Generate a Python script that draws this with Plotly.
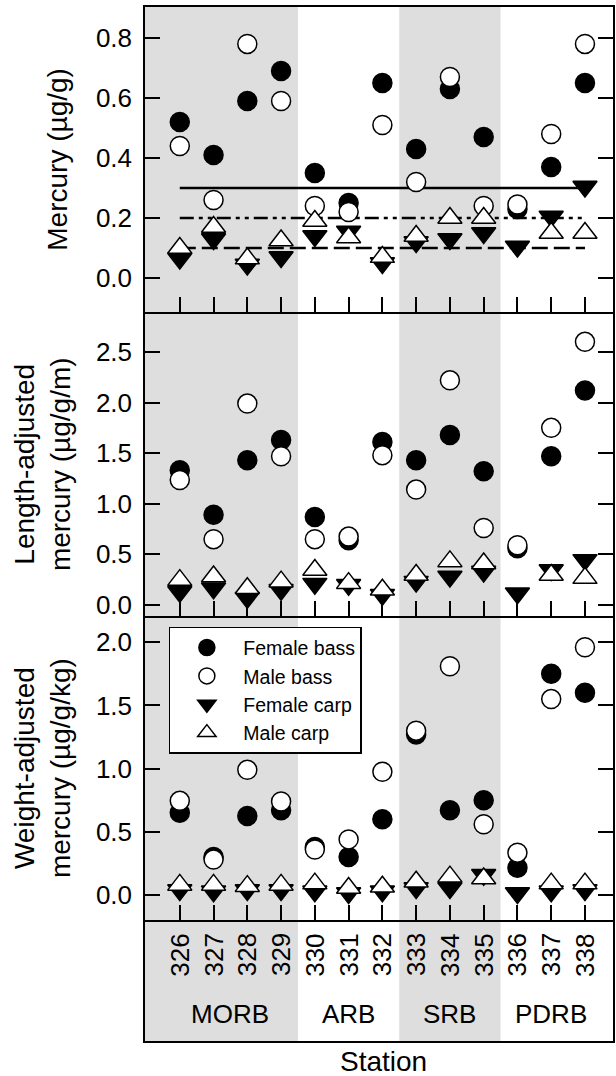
import plotly.graph_objects as go

stations = [326, 327, 328, 329, 330, 331, 332, 333, 334, 335, 336, 337, 338]
groups = ["MORB", "ARB", "SRB", "PDRB"]
group_first = [326, 330, 333, 336]
group_last = [329, 332, 335, 338]
shaded = [True, False, True, False]

series_names = ["Female bass", "Male bass", "Female carp", "Male carp"]

hg_fb = [0.52, 0.41, 0.59, 0.69, 0.35, 0.25, 0.65, 0.43, 0.63, 0.47, 0.23, 0.37, 0.65]
hg_mb = [0.44, 0.26, 0.78, 0.59, 0.24, 0.22, 0.51, 0.32, 0.67, 0.24, 0.245, 0.48, 0.78]
hg_fc = [0.065, 0.13, 0.045, 0.07, 0.14, 0.155, 0.05, 0.12, 0.13, 0.15, 0.105, 0.205, 0.305]
hg_mc = [0.10, 0.17, 0.065, 0.125, 0.19, 0.135, 0.07, 0.14, 0.20, 0.20, None, 0.15, 0.15]

len_fb = [1.33, 0.89, 1.43, 1.63, 0.87, 0.64, 1.61, 1.43, 1.68, 1.32, 0.56, 1.47, 2.12]
len_mb = [1.235, 0.65, 1.99, 1.47, 0.65, 0.675, 1.48, 1.14, 2.22, 0.76, 0.59, 1.75, 2.60]
len_fc = [0.13, 0.165, 0.07, 0.15, 0.21, 0.20, 0.10, 0.23, 0.28, 0.33, 0.115, 0.345, 0.445]
len_mc = [0.245, 0.28, 0.165, 0.23, 0.345, 0.215, 0.15, 0.295, 0.43, 0.41, None, 0.295, 0.265]

wt_fb = [0.65, 0.30, 0.625, 0.67, 0.38, 0.30, 0.60, 1.27, 0.67, 0.75, 0.215, 1.75, 1.60]
wt_mb = [0.745, 0.28, 0.99, 0.74, 0.36, 0.44, 0.975, 1.30, 1.81, 0.56, 0.335, 1.55, 1.96]
wt_fc = [0.04, 0.03, 0.04, 0.04, 0.03, 0.015, 0.03, 0.055, 0.055, 0.16, 0.015, 0.03, 0.04]
wt_mc = [0.08, 0.08, 0.07, 0.08, 0.09, 0.055, 0.065, 0.105, 0.145, 0.13, None, 0.09, 0.09]

# reference lines in the mercury panel (µg/g)
ref_levels = [0.3, 0.2, 0.1]
ref_dashes = ["solid", "14px,5px,4px,5px,4px,5px", "16px,6px"]

panel_titles = ["Mercury (µg/g)",
                "Length-adjusted<br>mercury (µg/g/m)",
                "Weight-adjusted<br>mercury (µg/g/kg)"]
panel_ranges = [[-0.113, 0.903], [-0.11, 2.895], [-0.198, 2.207]]
panel_ticks = [[0.0, 0.2, 0.4, 0.6, 0.8], [0.0, 0.5, 1.0, 1.5, 2.0, 2.5], [0.0, 0.5, 1.0, 1.5, 2.0]]
panel_domains = [[0.705, 1.0], [0.411, 0.705], [0.117, 0.411]]
strip_domain = [0.0, 0.117]

FONT = "Liberation Sans, Arial, sans-serif"
xr = [324.97, 338.83]

panels = [
    [hg_fb, hg_mb, hg_fc, hg_mc],
    [len_fb, len_mb, len_fc, len_mc],
    [wt_fb, wt_mb, wt_fc, wt_mc],
]

styles = [
    dict(symbol="circle", size=19, color="black", line=dict(color="black", width=1.5)),
    dict(symbol="circle", size=19, color="white", line=dict(color="black", width=1.5)),
    dict(symbol="triangle-down", size=21, color="black", line=dict(color="black", width=1.5)),
    dict(symbol="triangle-up", size=21, color="white", line=dict(color="black", width=1.5)),
]

fig = go.Figure()

# reference lines
for lvl, dsh in zip(ref_levels, ref_dashes):
    fig.add_trace(go.Scatter(x=[stations[0], stations[-1]], y=[lvl, lvl], mode="lines",
                             line=dict(color="black", width=2.5, dash=dsh),
                             xaxis="x", yaxis="y", showlegend=False, hoverinfo="skip"))

for p, data in enumerate(panels):
    ax = "" if p == 0 else str(p + 1)
    for s, (vals, st, nm) in enumerate(zip(data, styles, series_names)):
        fig.add_trace(go.Scatter(x=stations, y=vals, mode="markers", name=nm,
                                 marker=st, xaxis="x" + ax, yaxis="y" + ax,
                                 showlegend=(p == 0), legendrank=s + 1))

# empty trace so the station strip subplot is created
fig.add_trace(go.Scatter(x=[], y=[], mode="markers", xaxis="x4", yaxis="y4",
                         showlegend=False, hoverinfo="skip"))

layout = dict(
    width=616, height=1076,
    margin=dict(l=145, r=1, t=7, b=35),
    paper_bgcolor="white", plot_bgcolor="rgba(0,0,0,0)",
    font=dict(family=FONT, color="black", size=26),
    legend=dict(x=0.051, y=0.4005, xanchor="left", yanchor="top",
                bgcolor="white", bordercolor="black", borderwidth=1.5,
                font=dict(size=19.5, family=FONT), itemwidth=63,
                tracegroupgap=0, traceorder="normal"),
    showlegend=True,
)

for p in range(3):
    k = "" if p == 0 else str(p + 1)
    layout["xaxis" + k] = dict(range=xr, domain=[0, 1], anchor="y" + k,
                               showline=True, mirror=(p == 0), linecolor="black", linewidth=1.5,
                               ticks="inside", ticklen=15, tickwidth=1.5, tickcolor="black",
                               tickvals=stations, showticklabels=False,
                               showgrid=False, zeroline=False)
    layout["yaxis" + k] = dict(range=panel_ranges[p], domain=panel_domains[p], anchor="x" + k,
                               showline=True, mirror="ticks", linecolor="black", linewidth=1.5,
                               ticks="inside", ticklen=15, tickwidth=1.5, tickcolor="black",
                               tickvals=panel_ticks[p], tickformat=".1f",
                               tickfont=dict(size=26, family=FONT),
                               ticklabelstandoff=6,
                               showgrid=False, zeroline=False)

layout["xaxis4"] = dict(range=xr, domain=[0, 1], anchor="y4", showline=True, mirror=False,
                        linecolor="black", linewidth=1.5, ticks="", showticklabels=False,
                        showgrid=False, zeroline=False)
layout["yaxis4"] = dict(range=[0, 1], domain=strip_domain, anchor="x4", showline=True, mirror=True,
                        linecolor="black", linewidth=1.5, ticks="", showticklabels=False,
                        showgrid=False, zeroline=False)

shapes = []
for g0, g1, sh in zip(group_first, group_last, shaded):
    if sh:
        x0 = xr[0] if g0 == stations[0] else g0 - 0.5
        x1 = xr[1] if g1 == stations[-1] else g1 + 0.5
        shapes.append(dict(type="rect", xref="x", yref="paper",
                           x0=x0, x1=x1, y0=0, y1=1,
                           fillcolor="#dedede", line=dict(width=0), layer="below"))
layout["shapes"] = shapes

ann = []
for stn in stations:
    ann.append(dict(x=stn, y=0.0832, xref="x", yref="paper", text=str(stn), textangle=-90,
                    xanchor="center", yanchor="middle",
                    showarrow=False, font=dict(size=26, family=FONT)))
for g, g0, g1 in zip(groups, group_first, group_last):
    ann.append(dict(x=(g0 + g1) / 2, y=0.0261, xref="x", yref="paper", text=g,
                    xanchor="center", yanchor="middle",
                    showarrow=False, font=dict(size=26, family=FONT)))
ann.append(dict(x=0.51, y=-0.0203, xref="paper", yref="paper", text="Station",
                xanchor="center", yanchor="middle",
                showarrow=False, font=dict(size=28, family=FONT)))
title_x = [-0.1876, -0.2199, -0.2199]
for p in range(3):
    ann.append(dict(x=title_x[p], y=sum(panel_domains[p]) / 2, xref="paper", yref="paper",
                    text=panel_titles[p], textangle=-90, showarrow=False,
                    xanchor="center", yanchor="middle",
                    font=dict(size=28, family=FONT)))
layout["annotations"] = ann

fig.update_layout(**layout)
fig.write_html("out.html", config={"displayModeBar": False},
               post_script="document.body.style.margin='0';document.body.style.overflow='hidden';")
